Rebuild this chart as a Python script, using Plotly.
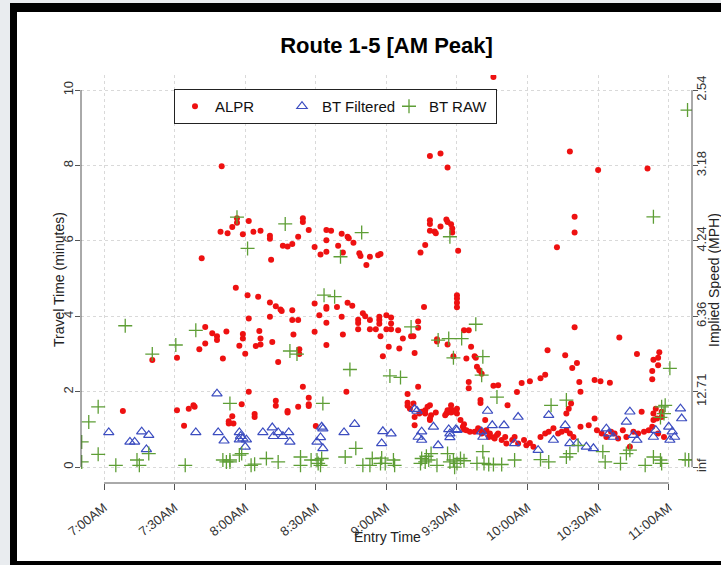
import plotly.graph_objects as go

DAY = "2013-06-04 "

# ---------------- data ----------------
alpr_time = [
    "09:45:30", "07:50:00", "09:18:30", "09:23:00", "09:26:00", "10:18:00", "10:30:00", "10:51:00",
    "07:41:30", "07:49:30", "07:52:30", "07:54:30", "07:56:30", "07:56:30", "08:01:30", "07:59:00",
    "08:03:30", "08:06:30", "08:10:30", "08:10:30", "08:11:00", "08:16:00", "08:18:00", "08:20:00",
    "08:22:30", "08:24:30", "08:24:30", "08:27:00", "08:29:30", "08:32:00", "08:34:30", "08:34:30",
    "08:36:30", "08:34:30", "08:39:30", "08:41:00", "08:41:30", "08:43:30", "08:44:00", "08:46:00",
    "08:48:30", "08:49:00", "08:51:30", "08:53:00", "08:56:30", "08:57:30", "09:14:30", "09:16:30",
    "09:18:30", "09:18:30", "09:18:30", "09:20:30", "09:21:00", "09:23:00", "09:25:30", "09:26:00",
    "09:27:30", "09:28:00", "09:28:00", "09:30:30", "10:12:30", "10:20:00", "10:20:00",
    "07:56:00", "08:01:00", "08:05:30", "08:10:30", "08:13:00", "08:15:00", "08:15:30", "08:20:00",
    "08:29:30", "08:34:30", "08:34:30", "08:39:00", "08:43:30", "08:45:30", "08:31:30", "08:34:30",
    "08:01:30", "08:10:30", "08:20:00", "08:22:30", "08:41:00", "08:50:00", "08:51:00", "08:48:00",
    "08:48:00", "08:48:00", "08:53:00", "08:53:00", "08:55:30", "08:57:00", "08:57:00", "08:57:00",
    "09:00:00", "09:00:00", "09:02:00", "09:02:00", "09:02:00", "08:57:30", "09:05:00", "09:07:00",
    "09:10:30", "09:11:30", "09:13:30", "09:13:30", "09:16:00", "09:21:30", "09:21:30", "09:26:00",
    "09:30:00", "09:30:00", "09:30:00", "09:30:00", "09:33:00", "09:35:00", "09:36:00", "09:37:30",
    "09:38:00", "09:34:00", "09:28:30", "09:38:30", "09:39:30", "09:40:30", "09:35:00", "09:35:00",
    "09:45:30", "09:47:30", "09:40:00", "09:40:00", "09:42:00",
    "07:40:30", "07:43:00", "07:43:00", "07:46:00", "07:48:00", "07:48:00", "07:52:00", "07:50:30",
    "07:57:30", "07:59:00", "07:59:00", "08:00:00", "08:04:30", "08:06:00", "08:06:30", "08:06:30",
    "08:11:30", "08:14:00", "08:23:00", "08:23:00", "08:20:30", "08:29:30", "08:34:30", "08:41:30",
    "08:58:30", "09:01:00", "09:05:30", "09:12:00", "09:13:30", "07:20:30", "07:31:00",
    "07:08:00", "07:31:00", "07:36:00", "07:38:00", "07:38:30", "07:34:00", "07:58:30", "07:54:30",
    "07:53:00", "07:53:00", "07:55:00", "08:04:00", "08:04:00", "08:01:30", "08:13:00", "08:13:00",
    "08:18:00", "08:18:00", "08:22:30", "08:27:00", "08:27:00", "08:24:30", "08:27:00", "08:30:00",
    "08:43:00", "09:09:00", "09:09:00", "09:09:00", "09:11:30", "09:10:00", "09:16:30", "09:16:30",
    "09:18:30", "09:18:30", "09:18:30", "09:21:00", "09:12:00", "09:12:00", "09:14:00", "09:15:00",
    "09:17:30", "09:19:00", "09:25:30", "09:27:30", "09:27:30", "09:27:30", "09:30:00", "09:30:00",
    "09:31:30", "09:33:00", "09:33:00", "09:25:00", "09:26:00", "09:29:00",
    "09:32:30", "09:34:00", "09:35:30", "09:37:30", "09:39:00", "09:39:30", "09:40:30", "09:41:30",
    "09:42:30", "09:43:30", "09:44:00", "09:45:30", "09:46:00", "09:47:00", "09:47:30", "09:49:00",
    "09:50:30", "09:51:00", "09:53:30", "09:54:30", "09:56:00", "09:58:30", "09:59:30", "10:01:00",
    "10:02:30", "10:05:30", "10:07:30", "10:09:00", "10:11:00", "10:13:00", "10:14:30", "10:16:30",
    "10:18:00", "10:19:30", "10:22:30", "10:16:30", "10:17:30", "10:18:30", "10:26:00", "10:28:30",
    "10:29:30", "10:31:30", "10:33:30", "10:35:30", "10:37:00", "10:38:30", "10:40:30", "10:42:00",
    "10:43:30", "10:45:00", "10:47:00", "10:49:30", "10:51:30", "10:53:00", "10:53:30", "10:55:00",
    "10:55:30", "10:57:00", "10:57:00", "10:58:00", "10:54:30", "10:53:30", "10:48:30",
    "09:51:30", "09:55:30", "09:57:30", "10:01:00", "10:05:30", "10:07:30", "10:08:30", "10:16:00",
    "10:19:00", "10:20:00", "10:21:00", "10:22:00", "10:22:30", "10:28:30", "10:31:00", "10:35:00",
    "10:39:00", "10:46:30", "10:53:00", "10:53:30", "10:55:30", "10:55:30", "10:56:00", "10:53:00",
]
alpr_tt = [
    10.35, 7.98, 8.25, 8.32, 7.95, 8.37, 7.88, 7.92,
    5.54, 6.24, 6.20, 6.37, 6.48, 6.60, 6.53, 6.18,
    6.24, 6.27, 6.14, 6.06, 5.50, 5.87, 5.85, 5.92,
    6.11, 6.60, 6.50, 6.29, 5.84, 5.64, 6.02, 6.29,
    6.27, 5.71, 5.87, 6.19, 5.69, 6.11, 6.07, 5.95,
    5.67, 5.60, 5.36, 5.58, 5.62, 5.65, 5.69, 5.89,
    6.55, 6.45, 6.27, 6.25, 6.20, 6.38, 6.57, 6.50,
    6.44, 6.33, 6.22, 5.74, 5.83, 6.64, 6.22,
    4.76, 4.56, 4.52, 4.37, 4.27, 4.18, 4.14, 4.16,
    4.34, 4.25, 4.20, 4.25, 4.36, 4.28, 4.03, 3.83,
    3.94, 3.99, 3.90, 3.90, 3.99, 4.08, 4.00, 3.91,
    3.82, 3.66, 3.90, 3.66, 3.66, 3.99, 3.90, 3.80,
    4.03, 3.66, 3.97, 3.81, 3.66, 3.47, 3.63, 3.41,
    3.47, 3.47, 3.86, 3.70, 4.25, 3.39, 3.33, 3.25,
    4.56, 4.47, 4.36, 4.24, 3.63, 3.63, 3.19, 2.94,
    2.90, 2.88, 2.94, 2.66, 2.57, 2.48, 2.26, 2.09,
    2.16, 2.17, 1.78, 1.70, 1.25,
    3.13, 3.28, 3.72, 3.55, 3.47, 3.37, 3.60, 2.88,
    3.22, 3.53, 3.41, 3.01, 3.21, 3.61, 3.41, 3.25,
    3.32, 2.79, 3.13, 3.00, 3.52, 3.59, 3.24, 3.52,
    2.94, 3.19, 3.15, 3.03, 2.13, 2.84, 2.90,
    1.49, 1.51, 1.55, 1.64, 1.60, 1.10, 1.67, 1.35,
    1.22, 1.16, 1.16, 1.41, 1.33, 2.00, 1.76, 1.63,
    1.49, 1.45, 1.60, 1.67, 1.62, 2.13, 1.84, 1.09,
    2.00, 1.94, 1.71, 1.63, 1.69, 1.55, 1.51, 1.42,
    1.64, 1.29, 1.25, 1.45, 1.33, 1.11, 1.42, 1.47,
    1.60, 1.38, 1.42, 1.64, 1.54, 1.45, 1.55, 1.42,
    1.25, 1.14, 1.00, 1.38, 1.51, 1.47,
    1.07, 0.98, 0.94, 0.94, 1.03, 1.00, 0.89, 0.94,
    0.98, 0.80, 0.89, 0.79, 0.76, 0.85, 0.89, 0.72,
    0.80, 0.63, 0.72, 0.80, 0.63, 0.72, 0.58, 0.64,
    0.54, 0.80, 0.89, 0.94, 1.03, 0.89, 0.94, 0.98,
    0.89, 0.80, 1.07, 1.42, 1.55, 1.69, 1.11, 1.29,
    0.98, 0.89, 0.80, 0.94, 0.89, 0.76, 0.98, 0.80,
    0.54, 0.94, 0.89, 0.94, 0.98, 1.07, 1.25, 1.29,
    0.89, 1.33, 1.47, 0.80, 1.55, 1.42, 1.47,
    1.64, 1.99, 2.23, 2.28, 2.36, 2.45, 3.10, 2.97,
    2.63, 3.71, 2.76, 2.26, 2.00, 2.31, 2.28, 2.24,
    3.44, 3.00, 2.55, 2.85, 2.90, 2.70, 3.05, 2.33,
]

btf_time = [
    "07:02:00", "07:11:00", "07:13:00", "07:16:00", "07:19:00", "07:18:00", "07:39:00", "07:48:00",
    "07:48:30", "07:51:00", "07:57:30", "07:58:00", "07:59:00", "07:57:30", "08:00:30", "08:00:00",
    "08:07:30", "08:11:30", "08:12:00", "08:14:00", "08:16:00", "08:18:30", "08:19:00", "08:30:30",
    "08:32:00", "08:33:00", "08:32:30", "08:33:00", "08:42:00", "08:46:30", "08:58:30", "09:02:00",
    "08:58:00", "09:13:00", "09:12:00", "09:15:00", "09:15:00", "09:13:30", "09:20:00", "09:22:00",
    "09:26:30", "09:27:00", "09:29:30", "09:27:00", "09:30:00", "09:40:30", "09:41:00", "09:43:00",
    "09:45:00", "09:50:00", "09:54:30", "09:56:00", "10:04:30", "10:09:00", "10:11:00", "10:16:00",
    "10:18:00", "10:21:00", "10:25:00", "10:28:00", "10:33:30", "10:34:30", "10:36:30", "10:42:00",
    "10:43:30", "10:45:00", "10:46:30", "10:53:30", "10:54:30", "11:00:00", "11:01:30", "11:00:30",
    "11:02:30", "11:05:30", "11:05:00",
]
btf_tt = [
    0.92, 0.67, 0.67, 0.94, 0.85, 0.47, 0.92, 1.95,
    0.92, 0.70, 0.92, 0.82, 0.76, 0.73, 0.73, 0.54,
    0.92, 1.05, 0.82, 0.92, 0.82, 0.92, 0.67, 0.67,
    0.79, 0.50, 1.07, 1.02, 0.92, 1.14, 0.95, 0.89,
    0.63, 1.49, 1.54, 0.94, 0.72, 0.80, 1.07, 0.58,
    1.00, 0.79, 1.00, 0.89, 0.98, 0.94, 0.80, 1.49,
    1.11, 1.11, 0.63, 1.33, 0.45, 1.38, 0.72, 1.11,
    0.63, 0.63, 0.54, 0.50, 1.02, 0.89, 0.80, 1.20,
    1.47, 0.85, 0.72, 0.80, 0.98, 1.07, 0.94, 0.72,
    0.80, 1.29, 1.55,
]

btr_time = [
    "06:50:30", "06:53:30", "06:57:30", "06:57:30", "06:50:30", "07:05:00", "07:09:00", "07:14:00",
    "07:15:00", "07:19:00", "07:20:30", "07:30:30", "07:34:30", "07:39:00", "07:50:30", "07:52:00",
    "07:53:30", "07:53:30", "07:53:30", "07:56:30", "07:57:30", "07:58:30", "08:01:00", "08:02:30",
    "08:04:00", "08:09:00", "08:14:00", "08:17:00", "08:19:00", "08:22:00", "08:23:30", "08:23:30",
    "08:28:00", "08:30:30", "08:31:00", "08:32:00", "08:32:30", "08:33:00", "08:33:30", "08:38:00",
    "08:40:30", "08:42:30", "08:44:30", "08:47:00", "08:49:30", "08:50:00", "08:53:00", "08:54:00",
    "08:57:30", "08:58:00", "08:59:30", "09:01:30", "09:03:00", "09:03:30", "09:06:00", "09:10:30",
    "09:14:30", "09:15:00", "09:16:30", "09:17:00", "09:18:00", "09:19:00", "09:21:30", "09:22:00",
    "09:26:00", "09:27:00", "09:26:30", "09:27:00", "09:28:30", "09:28:30", "09:29:00", "09:30:00",
    "09:31:30", "09:32:00", "09:33:00", "09:38:00", "09:38:30", "09:40:30", "09:41:00", "09:41:00",
    "09:41:30", "09:43:30", "09:45:30", "09:47:00", "09:49:00", "09:54:30", "10:05:30", "10:09:00",
    "10:10:00", "10:16:30", "10:16:30", "10:18:00", "10:21:30", "10:32:00", "10:33:00", "10:39:30",
    "10:42:00", "10:43:30", "10:50:00", "10:53:30", "10:53:30", "10:56:30", "10:56:30", "10:57:00",
    "10:58:00", "10:57:00", "10:58:30", "11:00:30", "11:07:00", "11:08:30", "11:08:00",
]
btr_tt = [
    0.67, 1.20, 1.60, 0.34, 0.14, 0.05, 3.75, 0.19,
    0.05, 0.36, 3.00, 3.24, 0.05, 3.63, 0.19, 0.14,
    0.19, 0.14, 1.69, 6.63, 0.32, 0.36, 5.80, 0.05,
    0.08, 0.23, 0.14, 6.45, 3.08, 3.00, 0.27, 0.05,
    0.19, 0.19, 0.10, 0.05, 0.23, 1.69, 4.56, 4.52,
    5.58, 0.27, 2.59, 0.50, 6.22, 0.05, 0.05, 0.23,
    0.10, 0.24, 0.10, 2.42, 0.19, 0.05, 2.38, 3.72,
    0.10, 0.23, 0.14, 0.29, 0.19, 0.36, 0.05, 3.37,
    0.36, 0.14, 3.41, 6.11, 0.19, 2.90, 0.00, 0.10,
    0.23, 3.41, 0.17, 3.79, 0.10, 2.44, 2.93, 0.41,
    0.10, 0.07, 0.07, 1.86, 0.07, 0.19, 0.20, 0.14,
    1.64, 1.78, 0.27, 0.36, 0.58, 0.41, 0.14, 0.10,
    0.36, 0.45, 0.05, 0.27, 6.64, 0.19, 1.32, 0.10,
    1.42, 1.60, 1.64, 2.62, 0.20, 0.19, 9.47,
]

x_tick_times = ["07:00", "07:30", "08:00", "08:30", "09:00", "09:30", "10:00", "10:30", "11:00"]
x_tick_labels = ["7:00AM", "7:30AM", "8:00AM", "8:30AM", "9:00AM", "9:30AM", "10:00AM", "10:30AM", "11:00AM"]
y_ticks = [0, 2, 4, 6, 8, 10]
speed_labels = ["inf", "12.71", "6.36", "4.24", "3.18", "2.54"]

FONT = "Liberation Sans, Arial, Helvetica, sans-serif"

fig = go.Figure()
fig.add_trace(go.Scatter(
    x=[DAY + t for t in alpr_time], y=alpr_tt, mode="markers", name="ALPR",
    marker=dict(symbol="circle", size=6, color="#ee1111", line=dict(width=0)),
))
fig.add_trace(go.Scatter(
    x=[DAY + t for t in btf_time], y=btf_tt, mode="markers", name="BT Filtered",
    marker=dict(symbol="triangle-up-open", size=9, color="#3c4dc0", line=dict(width=1.2)),
))
fig.add_trace(go.Scatter(
    x=[DAY + t for t in btr_time], y=btr_tt, mode="markers", name="BT RAW",
    marker=dict(symbol="cross-thin-open", size=10, color="#5e9e36", line=dict(width=1.3)),
))
fig.add_trace(go.Scatter(x=[DAY + "07:00"], y=[None], yaxis="y2", showlegend=False,
                         hoverinfo="skip", mode="markers"))

L, R, T, B = 81, 29, 75, 82
W, H = 721, 565
PW, PH = W - L - R, H - T - B


def px(X):
    return (X - L) / PW


def py(Y):
    return (H - B - Y) / PH


axis_col = "#555555"
shapes = [
    dict(type="rect", xref="paper", yref="paper", x0=px(10), x1=px(740), y0=py(575), y1=py(3),
         fillcolor="black", line=dict(width=0), layer="below"),
    dict(type="rect", xref="paper", yref="paper", x0=px(17), x1=px(740), y0=py(561), y1=py(12),
         fillcolor="white", line=dict(width=0), layer="below"),
    dict(type="line", xref="x", yref="paper", x0=DAY + x_tick_times[0], x1=DAY + x_tick_times[-1],
         y0=0, y1=0, line=dict(color=axis_col, width=1)),
    dict(type="line", xref="paper", yref="y", x0=0, x1=0, y0=y_ticks[0], y1=y_ticks[-1],
         line=dict(color=axis_col, width=1)),
    dict(type="line", xref="paper", yref="y", x0=1, x1=1, y0=y_ticks[0], y1=y_ticks[-1],
         line=dict(color=axis_col, width=1)),
]

fig.update_layout(
    width=W, height=H,
    margin=dict(l=L, r=R, t=T, b=B, autoexpand=False),
    paper_bgcolor="#e9ecef",
    plot_bgcolor="rgba(0,0,0,0)",
    font=dict(family=FONT, color="#333333", size=13),
    title=dict(text="<b>Route 1-5 [AM Peak]</b>", x=0.5, xanchor="center", xref="paper",
               y=1 - 45 / H, yanchor="middle", yref="container",
               font=dict(size=22, color="black", family=FONT)),
    showlegend=True,
    legend=dict(orientation="h", x=px(174), y=py(89), xanchor="left", yanchor="top",
                bgcolor="white", bordercolor="#222222", borderwidth=1,
                font=dict(size=15, color="#111111", family=FONT),
                entrywidth=62, entrywidthmode="pixels", itemsizing="trace",
                traceorder="normal"),
    xaxis=dict(
        type="date",
        range=[DAY + "06:50:12", DAY + "11:09:54"],
        tickmode="array",
        tickvals=[DAY + t for t in x_tick_times],
        ticktext=x_tick_labels,
        tickangle=-38,
        tickfont=dict(size=13, color="#333333"),
        ticks="outside", ticklen=6, tickcolor=axis_col,
        ticklabelstandoff=5,
        showgrid=True, gridcolor="#d9d9d9", griddash="dot", gridwidth=1,
        showline=False, zeroline=False,
    ),
    yaxis=dict(
        range=[-0.42, 10.4],
        tickmode="array", tickvals=y_ticks, ticktext=[str(v) for v in y_ticks],
        tickangle=-90,
        tickfont=dict(size=13, color="#333333"),
        ticks="outside", ticklen=5, tickcolor=axis_col,
        ticklabelstandoff=-3,
        showgrid=True, gridcolor="#d9d9d9", griddash="dot", gridwidth=1,
        showline=False, zeroline=False,
    ),
    yaxis2=dict(
        overlaying="y", side="right",
        range=[-0.42, 10.4],
        tickmode="array", tickvals=y_ticks, ticktext=speed_labels,
        tickangle=-90,
        tickfont=dict(size=13, color="#333333"),
        ticks="outside", ticklen=5, tickcolor=axis_col,
        ticklabelstandoff=-8,
        showgrid=False, showline=False, zeroline=False,
    ),
    shapes=shapes,
    annotations=[
        dict(text="Travel Time (minutes)", xref="paper", yref="paper", x=px(59), y=py(280),
             textangle=-90, showarrow=False, xanchor="center", yanchor="middle",
             font=dict(size=14, color="#222222")),
        dict(text="Implied Speed (MPH)", xref="paper", yref="paper", x=px(714), y=py(280),
             textangle=-90, showarrow=False, xanchor="center", yanchor="middle",
             font=dict(size=14, color="#222222")),
        dict(text="Entry Time", xref="paper", yref="paper", x=px(387), y=py(537),
             showarrow=False, xanchor="center", yanchor="middle",
             font=dict(size=14, color="#222222")),
    ],
)

fig.write_html("out.html", config={"displayModeBar": False},
               post_script="document.body.style.margin='0px';")
